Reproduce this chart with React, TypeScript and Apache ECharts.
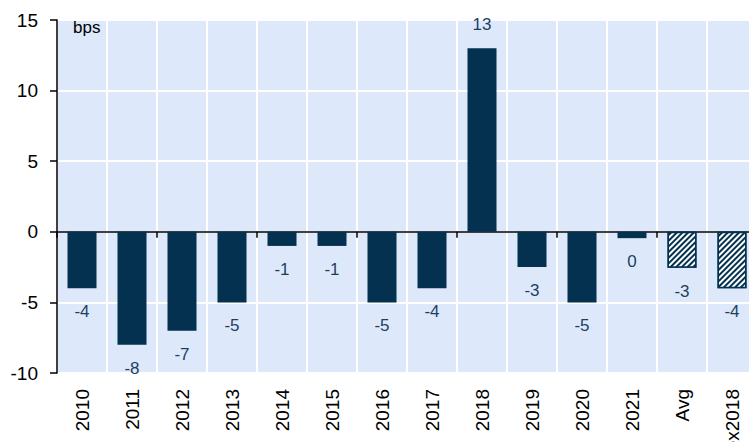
import React, { useEffect, useRef } from "react";
import * as echarts from "echarts";

const categories = ["2010", "2011", "2012", "2013", "2014", "2015", "2016", "2017", "2018", "2019", "2020", "2021", "Avg", "Avg ex2018"];
const values = [-4, -8, -7, -5, -1, -1, -5, -4, 13, -2.5, -5, -0.45, -2.55, -4];
const valueLabels = ["-4", "-8", "-7", "-5", "-1", "-1", "-5", "-4", "13", "-3", "-5", "0", "-3", "-4"];
const hatched = [false, false, false, false, false, false, false, false, false, false, false, false, true, true];
const yTicks = { min: -10, max: 15, interval: 5 };
const unitLabel = "bps";

const FONT = "Arial";
const NAVY = "#03314f";
const LABEL_COLOR = "#1d3f5e";

export default function App() {
  const ref = useRef<HTMLDivElement>(null);
  useEffect(() => {
    if (!ref.current) return;
    const chart = echarts.init(ref.current, null, { renderer: "svg" });
    const data = values.map((v, i) => ({
      value: v,
      itemStyle: hatched[i]
        ? {
            color: NAVY,
            borderColor: NAVY,
            borderWidth: 1.5,
            decal: {
              symbol: "rect",
              symbolSize: 1,
              color: "#ffffff",
              dashArrayX: [1, 0],
              dashArrayY: [2, 2],
              rotation: -Math.PI / 4,
            },
          }
        : { color: NAVY },
      label: {
        show: true,
        position: v < 0 ? "bottom" : "top",
        distance: 15,
        formatter: () => valueLabels[i],
      },
    }));
    chart.setOption({
      animation: false,
      grid: {
        left: 57,
        right: 13,
        top: 20,
        bottom: 69,
        show: true,
        backgroundColor: "#dde9fb",
        borderWidth: 0,
        containLabel: false,
        outerBoundsMode: "none",
      },
      graphic: [
        {
          type: "text",
          left: 73,
          top: 19,
          style: { text: unitLabel, fontSize: 17, fontFamily: FONT, fill: "#000" },
        },
      ],
      xAxis: [
        {
          type: "category",
          data: categories,
          position: "bottom",
          axisLine: { show: false, onZero: false },
          axisTick: { show: false },
          splitLine: { show: true, lineStyle: { color: "#ffffff", width: 2 } },
          axisLabel: {
            rotate: 90,
            margin: 16,
            fontSize: 19,
            fontFamily: FONT,
            color: "#000",
            interval: 0,
          },
        },
        {
          type: "category",
          data: categories,
          position: "top",
          axisLine: { show: true, onZero: true, lineStyle: { color: "#000", width: 1.5 } },
          axisTick: { show: true, inside: true, length: 6, lineStyle: { color: "#000", width: 1.5 } },
          axisLabel: { show: false },
          splitLine: { show: false },
        },
      ],
      yAxis: {
        type: "value",
        min: yTicks.min,
        max: yTicks.max,
        interval: yTicks.interval,
        axisLine: { show: true, lineStyle: { color: "#000", width: 1.5 } },
        axisTick: { show: true, length: 7, lineStyle: { color: "#000", width: 1.5 } },
        splitLine: { show: true, lineStyle: { color: "#ffffff", width: 2 } },
        axisLabel: { margin: 19, fontSize: 19, fontFamily: FONT, color: "#000" },
      },
      series: [
        {
          type: "bar",
          xAxisIndex: 0,
          barWidth: "58%",
          data,
          label: { fontSize: 17, fontFamily: FONT, color: LABEL_COLOR },
        },
      ],
    });
    return () => chart.dispose();
  }, []);
  return (
    <div style={{ position: "fixed", left: 0, top: 0, width: 749, height: 442, overflow: "hidden", background: "#fff" }}>
      <div ref={ref} style={{ width: 770, height: 442 }} />
    </div>
  );
}
